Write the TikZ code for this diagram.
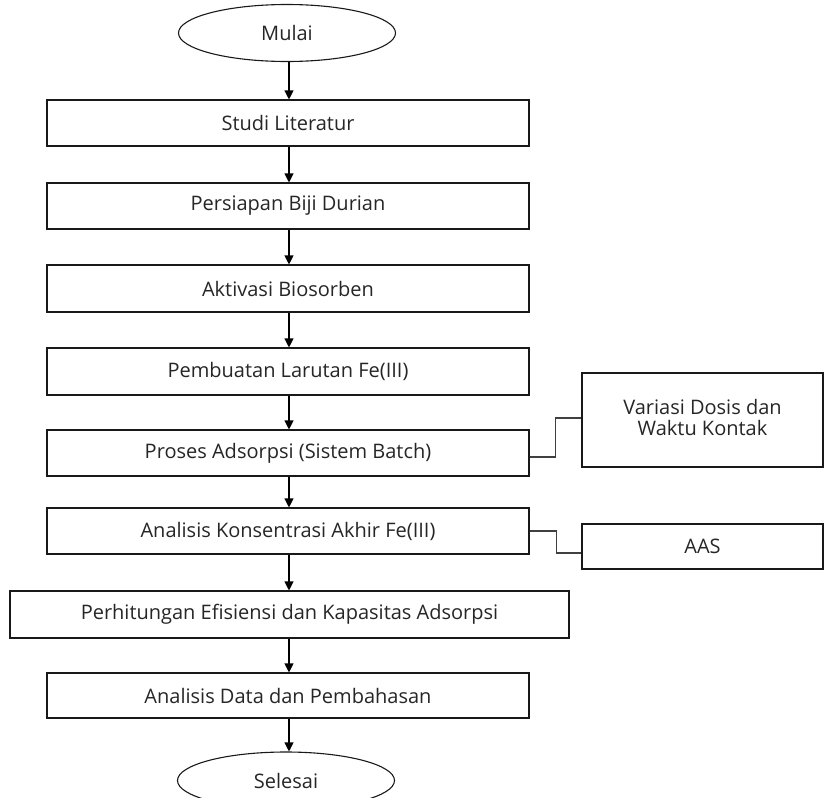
\documentclass[tikz,border=0pt]{standalone}
\usepackage{fontspec}
\setmainfont{Open Sans}
\usetikzlibrary{arrows.meta,shapes.geometric}
\begin{document}
\begin{tikzpicture}[x=1pt,y=-1pt,
  every node/.style={font=\fontsize{20}{23}\selectfont, text=black!85},
  stepbox/.style={draw=black!90, line width=1.1pt, rectangle, inner sep=0pt},
  termin/.style={draw=black!90, line width=1.1pt, ellipse, inner sep=0pt, minimum width=217pt, minimum height=57pt},
  flow/.style={draw=black, line width=1.1pt, -{Triangle[length=9pt,width=9pt]}},
  side/.style={draw=black!75, line width=1.2pt}
]
\useasboundingbox (0,0) rectangle (825,798);
\begin{scope}
\clip (0,0) rectangle (825,798);
\node[termin] (m) at (287,33) {Mulai};
\node[stepbox, minimum width=482pt, minimum height=46pt] (s1) at (288,123) {Studi Literatur};
\node[stepbox, minimum width=482pt, minimum height=46pt] (s2) at (288,206) {Persiapan Biji Durian};
\node[stepbox, minimum width=482pt, minimum height=47pt] (s3) at (288,288.5) {Aktivasi Biosorben};
\node[stepbox, minimum width=482pt, minimum height=47pt] (s4) at (288,371.5) {Pembuatan Larutan Fe(III)};
\node[stepbox, minimum width=482pt, minimum height=46pt] (s5) at (288,453) {Proses Adsorpsi (Sistem Batch)};
\node[stepbox, minimum width=482pt, minimum height=46pt] (s6) at (288,531) {Analisis Konsentrasi Akhir Fe(III)};
\node[stepbox, minimum width=559pt, minimum height=47pt] (s7) at (289.5,614.5) {Perhitungan Efisiensi dan Kapasitas Adsorpsi};
\node[stepbox, minimum width=482pt, minimum height=45pt] (s8) at (288,695.5) {Analisis Data dan Pembahasan};
\node[termin] (e) at (286,780.5) {Selesai};
\node[stepbox, minimum width=241pt, minimum height=94pt] (var) at (702.5,420) {\raisebox{5pt}{\fontsize{20}{20}\selectfont\begin{tabular}{@{}c@{}}Variasi Dosis dan\\Waktu Kontak\end{tabular}}};
\node[stepbox, minimum width=241pt, minimum height=45pt] (aas) at (702.5,546.5) {AAS};
\end{scope}
\draw[flow] (m.south -| 289,0) -- (s1.north -| 289,0);
\draw[flow] (s1.south -| 289,0) -- (s2.north -| 289,0);
\draw[flow] (s2.south -| 289,0) -- (s3.north -| 289,0);
\draw[flow] (s3.south -| 289,0) -- (s4.north -| 289,0);
\draw[flow] (s4.south -| 289,0) -- (s5.north -| 289,0);
\draw[flow] (s5.south -| 289,0) -- (s6.north -| 289,0);
\draw[flow] (s6.south -| 289,0) -- (s7.north -| 289,0);
\draw[flow] (s7.south -| 289,0) -- (s8.north -| 289,0);
\draw[flow] (s8.south -| 289,0) -- (e.north -| 289,0);
\draw[side] ([yshift=-4pt]s5.east) -- ++(26,0) |- ([yshift=2pt]var.west);
\draw[side] (s6.east) -- ++(27,0) |- ([yshift=-6.5pt]aas.west);
\end{tikzpicture}
\end{document}
